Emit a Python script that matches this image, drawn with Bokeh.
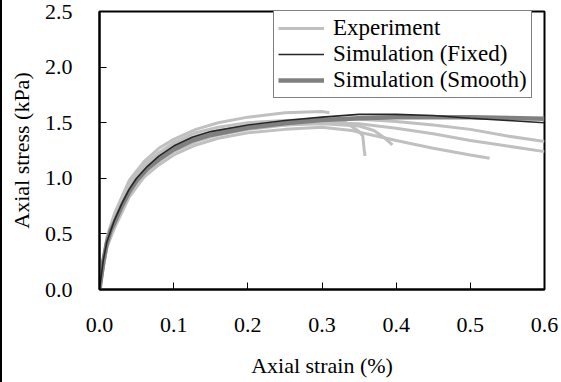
from bokeh.plotting import figure
from bokeh.models import Legend, LegendItem, Range1d, FixedTicker
from bokeh.embed import file_html
from bokeh.resources import INLINE

# ---- data ----
exp1_strain = [0, 0.01, 0.02, 0.04, 0.06, 0.08, 0.10, 0.13, 0.16, 0.20, 0.25, 0.30, 0.31]
exp1_stress = [0, 0.47, 0.68, 0.98, 1.15, 1.27, 1.35, 1.44, 1.50, 1.55, 1.59, 1.60, 1.59]

exp2_strain = [0, 0.01, 0.02, 0.04, 0.06, 0.08, 0.10, 0.13, 0.16, 0.20, 0.25, 0.30, 0.33, 0.35, 0.355, 0.357, 0.358]
exp2_stress = [0, 0.40, 0.58, 0.87, 1.04, 1.15, 1.24, 1.33, 1.39, 1.44, 1.48, 1.51, 1.51, 1.42, 1.38, 1.25, 1.20]

exp3_strain = [0, 0.01, 0.02, 0.04, 0.06, 0.08, 0.10, 0.13, 0.16, 0.20, 0.25, 0.30, 0.35, 0.37, 0.385, 0.395]
exp3_stress = [0, 0.44, 0.63, 0.93, 1.10, 1.21, 1.30, 1.38, 1.43, 1.46, 1.48, 1.49, 1.47, 1.43, 1.36, 1.30]

exp4_strain = [0, 0.01, 0.02, 0.04, 0.06, 0.08, 0.10, 0.13, 0.16, 0.20, 0.25, 0.30, 0.34, 0.40, 0.45, 0.50, 0.526]
exp4_stress = [0, 0.38, 0.55, 0.83, 1.01, 1.12, 1.21, 1.30, 1.36, 1.41, 1.44, 1.46, 1.43, 1.34, 1.27, 1.21, 1.18]

exp5_strain = [0, 0.01, 0.02, 0.04, 0.06, 0.08, 0.10, 0.13, 0.16, 0.20, 0.25, 0.30, 0.35, 0.40, 0.45, 0.50, 0.55, 0.60]
exp5_stress = [0, 0.43, 0.61, 0.91, 1.08, 1.19, 1.28, 1.37, 1.43, 1.47, 1.49, 1.50, 1.49, 1.45, 1.40, 1.34, 1.29, 1.24]

exp6_strain = [0, 0.01, 0.02, 0.04, 0.06, 0.08, 0.10, 0.13, 0.16, 0.20, 0.25, 0.30, 0.35, 0.40, 0.45, 0.50, 0.55, 0.60]
exp6_stress = [0, 0.45, 0.65, 0.95, 1.12, 1.23, 1.32, 1.41, 1.46, 1.50, 1.52, 1.53, 1.53, 1.51, 1.48, 1.44, 1.38, 1.33]

fixed_strain = [0, 0.005, 0.01, 0.02, 0.03, 0.04, 0.05, 0.065, 0.08, 0.10, 0.125, 0.15, 0.20, 0.25, 0.30, 0.35, 0.40, 0.45, 0.50, 0.55, 0.60]
fixed_stress = [0, 0.26, 0.43, 0.62, 0.77, 0.90, 1.00, 1.11, 1.20, 1.29, 1.37, 1.42, 1.48, 1.52, 1.55, 1.575, 1.575, 1.565, 1.54, 1.52, 1.50]

smooth_strain = [0, 0.005, 0.01, 0.015, 0.02, 0.03, 0.04, 0.05, 0.065, 0.08, 0.10, 0.125, 0.15, 0.20, 0.25, 0.30, 0.35, 0.40, 0.50, 0.60]
smooth_stress = [0, 0.25, 0.42, 0.53, 0.60, 0.75, 0.88, 0.98, 1.09, 1.17, 1.26, 1.34, 1.39, 1.455, 1.495, 1.525, 1.54, 1.55, 1.55, 1.535]

x_ticks = [0.0, 0.1, 0.2, 0.3, 0.4, 0.5, 0.6]
y_ticks = [0.0, 0.5, 1.0, 1.5, 2.0, 2.5]

FONT = "Liberation Serif"

p = figure(width=561, height=382, output_backend="svg", toolbar_location=None,
           x_range=Range1d(0, 0.6), y_range=Range1d(0, 2.5),
           min_border_left=97, min_border_right=19, min_border_top=11, min_border_bottom=93)
p.styles = {"border-left": "2px solid black", "box-sizing": "border-box"}
p.xgrid.visible = False
p.ygrid.visible = False
p.outline_line_color = "black"
p.outline_line_width = 2
p.background_fill_color = "white"
p.border_fill_color = "white"

for ax in (p.xaxis[0], p.yaxis[0]):
    ax.axis_line_width = 2
    ax.axis_line_color = "black"
    ax.major_tick_in = 7
    ax.major_tick_out = 0
    ax.minor_tick_in = 0
    ax.minor_tick_out = 0
    ax.major_tick_line_color = "black"
    ax.major_label_text_font = FONT
    ax.major_label_text_font_size = "22px"
    ax.major_label_text_color = "black"
    ax.axis_label_text_font = FONT
    ax.axis_label_text_font_size = "22px"
    ax.axis_label_text_font_style = "normal"
    ax.axis_label_text_color = "black"

p.xaxis[0].ticker = FixedTicker(ticks=x_ticks)
p.yaxis[0].ticker = FixedTicker(ticks=y_ticks)
p.xaxis[0].major_label_overrides = {t: f"{t:.1f}" for t in x_ticks}
p.yaxis[0].major_label_overrides = {t: f"{t:.1f}" for t in y_ticks}
p.xaxis[0].axis_label = "Axial strain (%)"
p.yaxis[0].axis_label = "Axial stress (kPa)"
p.xaxis[0].major_label_standoff = 28
p.yaxis[0].major_label_standoff = 27
p.xaxis[0].axis_label_standoff = 18
p.yaxis[0].axis_label_standoff = 8

EXP_COLOR = "#c0c0c0"
exp_renderers = []
for xs, ys in [(exp1_strain, exp1_stress), (exp2_strain, exp2_stress), (exp3_strain, exp3_stress),
               (exp4_strain, exp4_stress), (exp5_strain, exp5_stress), (exp6_strain, exp6_stress)]:
    r = p.line(xs, ys, line_color=EXP_COLOR, line_width=3)
    exp_renderers.append(r)

r_smooth = p.line(smooth_strain, smooth_stress, line_color="#808080", line_width=4.5)
r_fixed = p.line(fixed_strain, fixed_stress, line_color="#262626", line_width=1.6)

legend = Legend(items=[
    LegendItem(label="Experiment", renderers=[exp_renderers[0]]),
    LegendItem(label="Simulation (Fixed)", renderers=[r_fixed]),
    LegendItem(label="Simulation (Smooth)", renderers=[r_smooth]),
], location=(174, 191))
legend.label_text_font = FONT
legend.label_text_font_size = "23px"
legend.label_text_color = "black"
legend.label_height = 20
legend.glyph_height = 20
legend.glyph_width = 46
legend.label_standoff = 9
legend.spacing = 0
legend.padding = 4
legend.margin = 0
legend.border_line_color = "black"
legend.border_line_width = 1
legend.background_fill_alpha = 1
p.add_layout(legend)

open("out.html", "w").write(file_html(p, INLINE))
